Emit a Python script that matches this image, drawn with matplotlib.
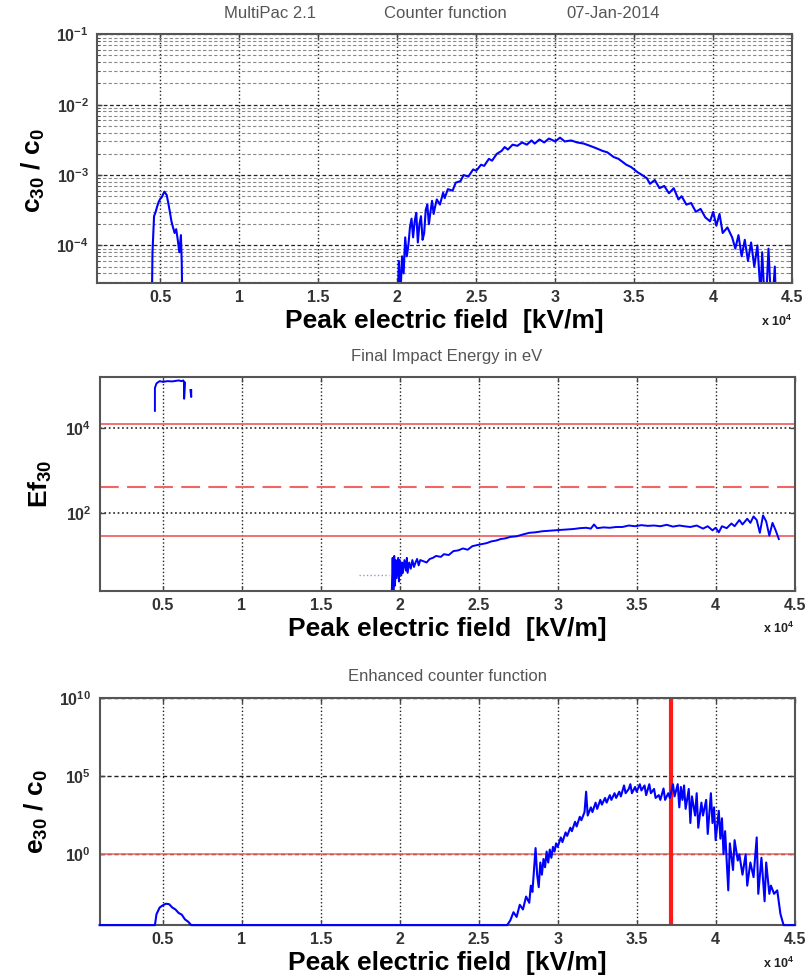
import numpy as np
import matplotlib
matplotlib.use('Agg')
import matplotlib.pyplot as plt
from matplotlib.ticker import FuncFormatter, LogLocator, NullLocator

plt.rcParams['font.family'] = ['Liberation Sans', 'DejaVu Sans']
plt.rcParams['mathtext.fontset'] = 'custom'
plt.rcParams['mathtext.rm'] = 'Liberation Sans'
plt.rcParams['mathtext.bf'] = 'Liberation Sans:bold'
plt.rcParams['mathtext.it'] = 'Liberation Sans:italic'

# ---- data (x in kV/m) ----
# counter function c30/c0
c_left_x = [4450, 4500, 4600, 4700, 4800, 4900, 5000, 5100, 5250, 5400, 5500, 5600,
            5700, 5800, 5900, 6000, 6100, 6200, 6300, 6350, 6400]
c_left_y = [1e-5, 8e-5, 2.6e-4, 3.0e-4, 3.6e-4, 4.2e-4, 4.6e-4, 4.9e-4, 5.8e-4, 5.2e-4,
            4.0e-4, 3.0e-4, 2.2e-4, 1.8e-4, 1.5e-4, 1.7e-4, 1.2e-4, 8e-5, 1.4e-4, 6e-5, 1e-5]
c_right_x = [20000, 20100, 20200, 20300, 20400, 20500, 20600, 20700, 20800, 20900, 21000,
             21100, 21200, 21300, 21400, 21500, 21600, 21700, 21800, 21900, 22000, 22100,
             22200, 22300, 22400, 22500, 22700, 22900, 23000, 23200, 23500, 23700, 24000,
             24200, 24500, 24800, 25000, 25300, 25500, 25800, 26000, 26300, 26600, 26800,
             27000, 27300, 27600, 27900, 28200, 28500, 28700, 29000, 29300, 29600, 30000,
             30300, 30600, 31000, 31400, 31800, 32200, 32600, 33000, 33300, 33700, 34000,
             34500, 34800, 35200, 35500, 35800, 36000, 36300, 36600, 36900, 37200, 37500,
             37800, 38000, 38300, 38600, 38900, 39200, 39500, 39800, 40000, 40200, 40400,
             40600, 40900, 41200, 41400, 41600, 41800, 42000, 42200, 42400, 42600, 42800,
             43000, 43100, 43300, 43500, 43700, 43900, 44000]
c_right_y = [1e-5, 6e-5, 2e-5, 7e-5, 4e-5, 1.3e-4, 7e-5, 1.0e-4, 1.8e-4, 2.4e-4, 1.3e-4,
             2.2e-4, 2.9e-4, 1.1e-4, 2.0e-4, 2.6e-4, 1.2e-4, 1.5e-4, 3.2e-4, 3.8e-4, 2.0e-4,
             3.0e-4, 4.3e-4, 2.8e-4, 3.6e-4, 4.5e-4, 3.8e-4, 5.6e-4, 4.7e-4, 6.3e-4, 6.0e-4,
             7.8e-4, 8.2e-4, 1.0e-3, 9.5e-4, 1.2e-3, 1.15e-3, 1.4e-3, 1.35e-3, 1.7e-3, 1.6e-3,
             2.0e-3, 2.2e-3, 2.5e-3, 2.3e-3, 2.7e-3, 2.6e-3, 2.9e-3, 2.7e-3, 3.1e-3, 2.8e-3,
             3.2e-3, 2.9e-3, 3.3e-3, 3.0e-3, 3.4e-3, 3.0e-3, 3.1e-3, 2.9e-3, 2.8e-3, 2.6e-3,
             2.4e-3, 2.2e-3, 2.1e-3, 1.8e-3, 1.7e-3, 1.4e-3, 1.3e-3, 1.1e-3, 1.0e-3, 9.0e-4,
             7.5e-4, 8.5e-4, 6.5e-4, 7.0e-4, 5.5e-4, 6.5e-4, 4.5e-4, 5.0e-4, 3.8e-4, 4.0e-4,
             3.0e-4, 3.3e-4, 2.5e-4, 2.2e-4, 3.0e-4, 1.9e-4, 2.8e-4, 1.5e-4, 1.8e-4, 1.3e-4,
             9e-5, 1.4e-4, 7e-5, 1.2e-4, 6e-5, 1.1e-4, 5e-5, 1.0e-4, 2e-5, 8e-5, 1e-5, 9e-5,
             1e-5, 5e-5, 1e-5]

# final impact energy Ef30 [eV]
ef_low_x = [4500, 4500, 4600, 4800, 5000, 5300, 5600, 6000, 6200, 6300, 6350, 6350, 6400,
            np.nan, 6750, 6800, 6800]
ef_low_y = [2.6e4, 9e4, 1.15e5, 1.3e5, 1.25e5, 1.3e5, 1.28e5, 1.35e5, 1.3e5, 1.35e5, 1.2e5,
            5e4, 1.2e5, np.nan, 8e4, 5.5e4, 8e4]
ef_x = [19500, 19550, 19600, 19650, 19700, 19750, 19800, 19900, 19950, 20000, 20100, 20150,
        20200, 20300, 20400, 20450, 20500, 20600, 20700, 20800, 20900, 21000, 21100, 21200,
        21300, 21500, 21700, 21900, 22100, 22300, 22600, 22800, 23100, 23400, 23700, 24000,
        24300, 24600, 24900, 25200, 25500, 25800, 26100, 26400, 26700, 27000, 27400, 27800,
        28200, 28600, 29000, 29400, 29800, 30200, 30600, 31000, 31400, 31800, 32100, 32300,
        32500, 32900, 33300, 33700, 34100, 34500, 34900, 35300, 35700, 36100, 36500, 36900,
        37300, 37700, 38000, 38400, 38800, 39200, 39500, 39800, 40000, 40200, 40400, 40700,
        41000, 41200, 41500, 41700, 42000, 42200, 42400, 42600, 42800, 43000, 43200, 43400,
        43600, 43800, 44000]
ef_y = [1.6, 9, 1.5, 10, 2, 8, 3, 9, 2.5, 8, 3.5, 7, 4, 8, 4.5, 9, 4, 7, 5, 8, 5.5, 7, 8.5,
        6, 8, 7.5, 7, 8.5, 9, 10, 9.5, 11, 10.5, 13, 13.5, 15, 14, 17, 18, 19, 20, 22, 23,
        25, 26, 28, 29, 32, 35, 36, 38, 39, 40, 41, 42, 43, 45, 46, 44, 55, 45, 47, 46, 48,
        48, 52, 50, 53, 51, 52, 50, 54, 49, 52, 50, 48, 52, 44, 50, 40, 46, 36, 50, 45, 58,
        50, 70, 55, 75, 60, 85, 70, 35, 90, 65, 30, 60, 40, 25]
ef_faint_x = [17400, 19300]
ef_faint_y = [3.5, 3.5]
sey_e1 = 29
sey_emax = 410
sey_e2 = 12400

# enhanced counter function e30/c0 (zero values floored at 3e-5)
e_x = [1000, 4500, 4600, 4800, 5000, 5200, 5400, 5600, 5800, 6000, 6200, 6400, 6600, 6800,
       26800, 27000, 27200, 27400, 27600, 27800, 28000, 28200, 28300, 28400, 28500, 28600,
       28700, 28800, 28900, 29000, 29100, 29200, 29300, 29400, 29500, 29600, 29700, 29800,
       29900, 30000, 30200, 30300, 30500, 30600, 30800, 30900, 31100, 31200, 31400, 31500,
       31700, 31800, 31900, 32100, 32200, 32400, 32500, 32700, 32800, 33000, 33100, 33300,
       33400, 33600, 33700, 33900, 34000, 34200, 34300, 34500, 34600, 34700, 34900, 35000,
       35200, 35300, 35500, 35600, 35800, 35900, 36100, 36200, 36400, 36500, 36700, 36800,
       37000, 37100, 37300, 37400, 37600, 37700, 37800, 37900, 38000, 38100, 38300, 38400,
       38500, 38700, 38800, 38900, 39100, 39200, 39400, 39500, 39700, 39800, 39900, 40000,
       40200, 40300, 40400, 40500, 40600, 40800, 40900, 41100, 41200, 41400, 41500, 41700,
       41900, 42000, 42200, 42400, 42600, 42700, 42900, 43100, 43200, 43400, 43500, 43700,
       43900, 44100, 44300, 45000]
e_y = [3e-5, 3e-5, 1.5e-4, 4e-4, 5.5e-4, 7e-4, 6.5e-4, 4e-4, 3e-4, 1.8e-4, 1.4e-4, 7e-5,
       5e-5, 3e-5,
       3e-5, 6e-5, 2e-4, 1e-4, 6e-4, 3e-4, 2e-3, 8e-4, 1e-2, 4e-3, 0.1, 2.5,
       0.05, 8e-3, 0.3, 0.05, 0.5, 0.15, 1.5, 0.3, 2, 0.6, 3, 1.5,
       5, 3, 12, 6, 25, 15, 50, 30, 120, 60, 250, 150,
       500, 1e4, 300, 1000, 500, 2000, 800, 3000, 1500, 4000, 2000, 6000,
       3000, 8000, 4000, 1e4, 5000, 2.5e4, 8000, 1.5e4, 3e4, 8000, 2e4, 1e4,
       3e4, 1.2e4, 2.5e4, 6000, 3e4, 8000, 1.5e4, 4000, 6000, 3000, 1.6e4, 3000,
       8000, 4000, 3e4, 5000, 3e4, 1000, 2e4, 3000, 2.5e4, 800, 1.5e4, 100,
       5000, 300, 8000, 50, 2000, 300, 3000, 20, 8000, 100, 1000, 8,
       600, 10, 200, 1, 30, 5e-3, 5, 0.1, 8, 0.4, 1, 0.05,
       1, 0.01, 0.3, 0.035, 12, 3e-3, 0.6, 1e-3, 0.3, 3e-3, 0.01, 3e-3,
       5e-3, 1.6e-4, 3e-5, 3e-5]
e_field_mark = 37200

blue = '#0000ff'
red_lt = '#f06666'
gray_txt = '#555555'

fig = plt.figure(figsize=(8.1, 9.8), dpi=100)
ax1 = fig.add_axes([0.120, 0.711, 0.858, 0.254])
ax2 = fig.add_axes([0.123, 0.397, 0.858, 0.218])
ax3 = fig.add_axes([0.123, 0.056, 0.858, 0.232])

xfmt = FuncFormatter(lambda v, p: f'{v / 1e4:g}')


def style(ax, ylim, yticks, ylabels, axh):
    ax.set_yscale('log')
    ax.set_xlim(1000, 45000)
    ax.set_ylim(*ylim)
    ax.set_xticks(np.arange(5000, 45001, 5000))
    ax.xaxis.set_major_formatter(xfmt)
    ax.set_yticks(yticks)
    ax.set_yticklabels(ylabels)
    ax.tick_params(direction='in', top=True, right=True, labelsize=11.5,
                   labelcolor='#333333', color='#444444', width=1)
    ax.tick_params(axis='x', pad=5)
    ax.tick_params(axis='y', pad=6)
    for lab in ax.get_xticklabels():
        lab.set_fontweight('bold')
    for s in ax.spines.values():
        s.set_color('#555555')
        s.set_linewidth(1.5)
    ax.grid(True, axis='x', which='major', linestyle=':', color='#222222', linewidth=1)
    ax.set_xlabel('Peak electric field  [kV/m]', fontsize=19, fontweight='bold')
    ax.xaxis.label.set_va('center')
    ax.xaxis.set_label_coords(0.5, -38 / axh)
    ax.text(1.0, -38 / axh, r'$\mathbf{x\ 10^4}$', transform=ax.transAxes,
            ha='right', va='center', fontsize=9, color='#222222')
    ax.set_axisbelow(True)


# --- top: counter function ---
style(ax1, (2.9e-5, 1e-1), [1e-4, 1e-3, 1e-2, 1e-1],
      [r'$\mathbf{10^{-4}}$', r'$\mathbf{10^{-3}}$', r'$\mathbf{10^{-2}}$', r'$\mathbf{10^{-1}}$'], 249)
ax1.yaxis.set_minor_locator(LogLocator(base=10, subs=range(2, 10), numticks=20))
ax1.grid(True, axis='y', which='major', linestyle=(0, (3, 2)), color='#222222', linewidth=0.9)
ax1.grid(True, axis='y', which='minor', linestyle=(0, (3, 2)), color='#8a8a8a', linewidth=0.8)
ax1.tick_params(which='minor', direction='in', right=True, color='#444444')
ax1.plot(c_left_x, c_left_y, color=blue, linewidth=1.5)
ax1.plot(c_right_x, c_right_y, color=blue, linewidth=1.5)
ax1.set_ylabel(r'$\mathbf{c_{30}\ /\ c_0}$', fontsize=19)
ax1.yaxis.set_label_coords(-0.072, 0.45)

fig.text(270 / 810, 1 - 14 / 980, 'MultiPac 2.1', ha='center', va='center', fontsize=12, color=gray_txt)
fig.text(445 / 810, 1 - 14 / 980, 'Counter function', ha='center', va='center', fontsize=12, color=gray_txt)
fig.text(613 / 810, 1 - 14 / 980, '07-Jan-2014', ha='center', va='center', fontsize=12, color=gray_txt)

# --- middle: final impact energy ---
style(ax2, (1.5, 1.6e5), [1e2, 1e4], [r'$\mathbf{10^{2}}$', r'$\mathbf{10^{4}}$'], 214)
ax2.yaxis.set_minor_locator(NullLocator())
ax2.grid(True, axis='y', which='major', linestyle=':', color='#222222', linewidth=1.2)
ax2.axhline(sey_e2, color=red_lt, linewidth=1.3)
ax2.axhline(sey_emax, color=red_lt, linewidth=1.5, dashes=(9, 4))
ax2.axhline(sey_e1, color=red_lt, linewidth=1.3)
ax2.plot(ef_faint_x, ef_faint_y, color='#8c9ae0', linewidth=1, linestyle=':')
ax2.plot(ef_low_x, ef_low_y, color=blue, linewidth=1.4)
ax2.plot(ef_x, ef_y, color=blue, linewidth=1.4)
ax2.set_ylabel(r'$\mathbf{Ef_{30}}$', fontsize=19)
ax2.yaxis.set_label_coords(-0.065, 0.5)
ax2.set_title('Final Impact Energy in eV', fontsize=12, color=gray_txt, pad=12)

# --- bottom: enhanced counter function ---
style(ax3, (3e-5, 1e10), [1e0, 1e5, 1e10],
      [r'$\mathbf{10^{0}}$', r'$\mathbf{10^{5}}$', r'$\mathbf{10^{10}}$'], 227)
ax3.yaxis.set_minor_locator(NullLocator())
ax3.grid(True, axis='y', which='major', linestyle=(0, (3, 2)), color='#222222', linewidth=1)
ax3.axhline(1, color=red_lt, linewidth=1.1)
ax3.axvline(e_field_mark, color='#ff1a1a', linewidth=3)
ax3.plot(e_x, e_y, color=blue, linewidth=1.5, clip_on=False, zorder=3)
ax3.set_ylabel(r'$\mathbf{e_{30}\ /\ c_0}$', fontsize=19)
ax3.yaxis.set_label_coords(-0.072, 0.5)
ax3.set_title('Enhanced counter function', fontsize=12, color=gray_txt, pad=12)

fig.savefig('out.png', dpi=100)
